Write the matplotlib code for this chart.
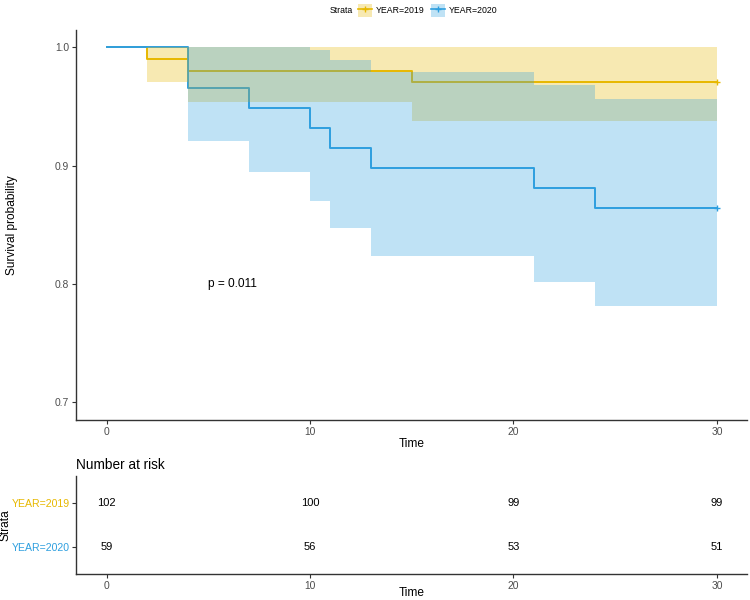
# -*- coding: utf-8 -*-

import matplotlib
matplotlib.use("Agg")
import matplotlib.pyplot as plt
from matplotlib.patches import Patch
from matplotlib.lines import Line2D

plt.rcParams['font.family'] = ['Liberation Sans', 'DejaVu Sans']

# Kaplan-Meier curves
time_2019 = [0, 2, 4, 15, 30]
surv_2019 = [1.0, 0.990, 0.980, 0.971, 0.971]
upper_2019 = [1.0, 1.0, 1.0, 1.0, 1.0]
lower_2019 = [1.0, 0.971, 0.954, 0.938, 0.938]

time_2020 = [0, 4, 7, 10, 11, 13, 21, 24, 30]
surv_2020 = [1.0, 0.966, 0.949, 0.932, 0.915, 0.898, 0.881, 0.864, 0.864]
upper_2020 = [1.0, 1.0, 1.0, 0.998, 0.989, 0.979, 0.968, 0.956, 0.956]
lower_2020 = [1.0, 0.921, 0.895, 0.870, 0.847, 0.824, 0.802, 0.781, 0.781]

# number at risk table
risk_times = [0, 10, 20, 30]
risk_2019 = [102, 100, 99, 99]
risk_2020 = [59, 56, 53, 51]

strata = ['YEAR=2019', 'YEAR=2020']
colors = ['#E7B800', '#2E9FDF']
p_text = 'p = 0.011'

W, H = 750, 600
fig = plt.figure(figsize=(7.5, 6), dpi=100)

ax = fig.add_axes([76 / W, 1 - 420 / H, (747.5 - 76) / W, (420 - 29.6) / H])
ax2 = fig.add_axes([76 / W, 1 - 574 / H, (747.5 - 76) / W, (574 - 476) / H])

axis_col = '#333333'
tick_col = '#4d4d4d'

curves = [
    (time_2019, surv_2019, lower_2019, upper_2019),
    (time_2020, surv_2020, lower_2020, upper_2020),
]

# lines first, ribbons on top (as in the original)
for (t, s, lo, up), c in zip(curves, colors):
    ax.step(t, s, where='post', color=c, linewidth=1.4, zorder=2)
for (t, s, lo, up), c in zip(curves, colors):
    ax.fill_between(t, lo, up, step='post', color=c, alpha=0.3,
                    linewidth=0, zorder=3)
for (t, s, lo, up), c in zip(curves, colors):
    ax.plot(t[-1:], s[-1:], marker='+', color=c, markersize=5,
            markeredgewidth=1.0, linestyle='none', zorder=4)

ax.text(5, 0.8, p_text, ha='left', va='center', fontsize=8.6, color='black')

ax.set_xlim(-1.5, 31.5)
ax.set_ylim(0.685, 1.015)
ax.set_xticks(risk_times)
ax.set_yticks([0.7, 0.8, 0.9, 1.0])
ax.set_yticklabels(['0.7', '0.8', '0.9', '1.0'])
ax.set_xlabel('Time', fontsize=8.6, labelpad=1)
ax.set_ylabel('Survival probability', fontsize=8.6)
ax.yaxis.set_label_coords((18 - 76) / 671.5, 0.5)

# risk table
ax2.set_xlim(-1.5, 31.5)
ax2.set_ylim(0.4, 2.6)
for x, a, b in zip(risk_times, risk_2019, risk_2020):
    ax2.text(x, 2, str(a), ha='center', va='center', fontsize=8)
    ax2.text(x, 1, str(b), ha='center', va='center', fontsize=8)
ax2.set_xticks(risk_times)
ax2.set_yticks([2, 1])
ax2.set_yticklabels(strata)
ax2.set_xlabel('Time', fontsize=8.6, va='top')
ax2.xaxis.set_label_coords(0.5, (574 - 587) / 98)
ax2.set_ylabel('Strata', fontsize=8.6)
ax2.yaxis.set_label_coords((11 - 76) / 671.5, 0.5)
ax2.set_title('Number at risk', loc='left', fontsize=9.8, pad=5)

for a in (ax, ax2):
    for side in ('top', 'right'):
        a.spines[side].set_visible(False)
    for side in ('left', 'bottom'):
        a.spines[side].set_color(axis_col)
        a.spines[side].set_linewidth(1.0)
    a.tick_params(direction='out', length=3, width=0.8, color=axis_col,
                  labelcolor=tick_col, labelsize=7.4, pad=2)
ax2.tick_params(axis='y', pad=1.5)
for lbl, c in zip(ax2.get_yticklabels(), colors):
    lbl.set_color(c)
    lbl.set_fontsize(7.6)

# legend on top
fig.text(353 / W, 1 - 10.6 / H, 'Strata', ha='right', va='center',
         fontsize=6.3)
handles = []
for c in colors:
    handles.append((Patch(facecolor=c, alpha=0.3, edgecolor='none'),
                    Line2D([], [], color=c, linewidth=1.2, marker='+',
                           markersize=5, markeredgewidth=1.0)))
fig.legend(handles, strata, loc='center left',
           bbox_to_anchor=(358 / W, 1 - 10.6 / H), ncol=2, frameon=False,
           fontsize=6.3, borderpad=0, borderaxespad=0, handlelength=1.6,
           handleheight=1.8, handletextpad=0.45, columnspacing=0.7,
           numpoints=1)

plt.savefig('out.png', dpi=100)
